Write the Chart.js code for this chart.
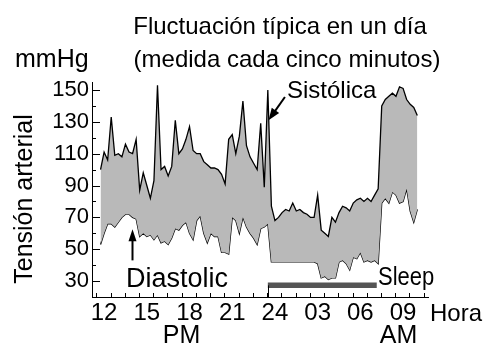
<!DOCTYPE html>
<html>
<head>
<meta charset="utf-8">
<script src="https://cdn.jsdelivr.net/npm/chart.js@4.4.1/dist/chart.umd.min.js"></script>
<style>
  html, body { margin: 0; padding: 0; background: #fff; }
</style>
</head>
<body>
<canvas id="bpChart" width="486" height="347"></canvas>
<script>
// hora de cada lectura (12 = mediodía, 24 = medianoche, 33 = 09 AM)
const hours = [
  11.75, 12, 12.25, 12.5, 12.75, 13, 13.25, 13.5, 13.75, 14,
  14.25, 14.5, 14.75, 15, 15.25, 15.5, 15.75, 16, 16.25, 16.5,
  16.75, 17, 17.25, 17.5, 17.75, 18, 18.25, 18.5, 18.75, 19,
  19.25, 19.5, 19.75, 20, 20.25, 20.5, 20.75, 21, 21.25, 21.5,
  21.75, 22, 22.25, 22.5, 22.75, 23, 23.25, 23.5, 23.75, 24,
  24.25, 24.5, 24.75, 25, 25.25, 25.5, 25.75, 26, 26.25, 26.5,
  26.75, 27, 27.25, 27.5, 27.75, 28, 28.25, 28.5, 28.75, 29,
  29.25, 29.5, 29.75, 30, 30.25, 30.5, 30.75, 31, 31.25, 31.5,
  31.75, 32, 32.25, 32.5, 32.75, 33, 33.25, 33.5, 33.75, 34
];

// presión sistólica (mmHg)
const systolic = [
  100, 111, 106, 133, 109, 110, 108, 116, 111, 110,
  119, 87, 98, 90, 82, 93, 153, 100, 102, 96,
  102, 131, 110, 113, 119, 127, 112, 110, 110, 105,
  103, 101, 101, 100, 97, 91, 119, 122, 110, 121,
  143, 115, 108, 104, 100, 129, 89, 150, 77, 68,
  70, 73, 75, 74, 79, 74, 75, 73, 72, 70,
  70, 84, 62, 60, 58, 70, 67, 73, 77, 76,
  74, 79, 81, 82, 80, 82, 80, 84, 88, 140,
  144, 146, 148, 146, 152, 151, 144, 141, 139, 134
];

// presión diastólica (mmHg)
const diastolic = [
  53, 60, 66, 66, 64, 67, 70, 72, 72, 70,
  69, 58, 60, 58, 59, 56, 59, 54, 55, 53,
  57, 63, 62, 65, 67, 60, 56, 68, 71, 60,
  54, 60, 58, 58, 48, 48, 47, 70, 68, 60,
  70, 64, 60, 57, 53, 63, 64, 66, 42, 42,
  42, 42, 42, 42, 42, 42, 42, 42, 42, 42,
  42, 41, 32, 33, 31, 32, 32, 42, 43, 41,
  37, 45, 44, 48, 42, 43, 42, 43, 41, 79,
  82, 79, 86, 84, 79, 80, 88, 74, 67, 75
];

// periodo de sueño
const sleepHours = [23.5, 31.15];
const sleepLevel = 27.3;

const tickHours = [12, 15, 18, 21, 24, 27, 30, 33];
const tickLabels = ['12', '15', '18', '21', '24', '03', '06', '09'];
const minorHours = [11.45, 12.45, 13.45, 14.45, 15.45, 16.45, 17.45, 18.45, 19.45, 20.45, 21.45, 22.45,
  23.45, 24.45, 25.45, 26.45, 27.45, 28.45, 29.45, 30.45, 31.45, 32.45, 33.45, 34.45];
const yTicks = [30, 50, 70, 90, 110, 130, 150];
const yMinor = [40, 60, 80, 100, 120, 140];

const FONT = "'Liberation Sans', Arial, sans-serif";

function arrow(ctx, x1, y1, x2, y2, head, half) {
  const a = Math.atan2(y2 - y1, x2 - x1);
  const c = Math.cos(a), s = Math.sin(a);
  ctx.beginPath();
  ctx.moveTo(x1, y1);
  ctx.lineTo(x2 - c * head * 0.8, y2 - s * head * 0.8);
  ctx.stroke();
  ctx.beginPath();
  ctx.moveTo(x2, y2);
  ctx.lineTo(x2 - head * c + half * s, y2 - head * s - half * c);
  ctx.lineTo(x2 - head * c - half * s, y2 - head * s + half * c);
  ctx.closePath();
  ctx.fill();
}

const decorations = {
  id: 'decorations',
  afterDraw(chart) {
    const { ctx, chartArea } = chart;
    const x = chart.scales.x, y = chart.scales.y;
    ctx.save();
    ctx.strokeStyle = '#000';
    ctx.fillStyle = '#000';
    ctx.lineWidth = 1;

    // marcas hacia dentro
    ctx.beginPath();
    yTicks.forEach(v => {
      const py = Math.round(y.getPixelForValue(v)) + 0.5;
      ctx.moveTo(chartArea.left, py); ctx.lineTo(chartArea.left + 8, py);
    });
    yMinor.forEach(v => {
      const py = Math.round(y.getPixelForValue(v)) + 0.5;
      ctx.moveTo(chartArea.left, py); ctx.lineTo(chartArea.left + 4, py);
    });
    minorHours.forEach(h => {
      const px = Math.round(x.getPixelForValue(h)) + 0.5;
      ctx.moveTo(px, chartArea.bottom); ctx.lineTo(px, chartArea.bottom - 4);
    });
    // inicio del sueño
    const sx = Math.round(x.getPixelForValue(sleepHours[0])) + 0.5;
    ctx.moveTo(sx, y.getPixelForValue(sleepLevel)); ctx.lineTo(sx, chartArea.bottom);
    ctx.stroke();

    // títulos
    ctx.textBaseline = 'alphabetic';
    ctx.textAlign = 'center';
    ctx.font = '24px ' + FONT;
    ctx.fillText('Fluctuación típica en un día', 280, 34);
    ctx.fillText('(medida cada cinco minutos)', 287, 67);
    ctx.textAlign = 'left';
    ctx.font = '25px ' + FONT;
    ctx.fillText('mmHg', 15, 67);

    ctx.save();
    ctx.translate(32, 199);
    ctx.rotate(-Math.PI / 2);
    ctx.textAlign = 'center';
    ctx.font = '25px ' + FONT;
    ctx.fillText('Tensión arterial', 0, 0);
    ctx.restore();

    // etiquetas de las curvas
    ctx.font = '24px ' + FONT;
    ctx.fillText('Sistólica', 287, 98);
    ctx.lineWidth = 2;
    arrow(ctx, x.getPixelForValue(24.7), y.getPixelForValue(145.6),
      x.getPixelForValue(23.55), y.getPixelForValue(131), 12, 4.5);

    ctx.font = '27px ' + FONT;
    ctx.fillText('Diastolic', 126, 287);
    const dx = Math.round(x.getPixelForValue(13.94)) + 0.5;
    arrow(ctx, dx, y.getPixelForValue(43), dx, y.getPixelForValue(62.5), 12, 4);

    ctx.save();
    ctx.translate(378, 285);
    ctx.scale(0.88, 1);
    ctx.font = '25px ' + FONT;
    ctx.fillText('Sleep', 0, 0);
    ctx.restore();

    // eje horizontal
    ctx.textAlign = 'center';
    ctx.font = '25px ' + FONT;
    ctx.fillText('PM', 181.5, 343);
    ctx.fillText('AM', 398.5, 343);
    ctx.textAlign = 'left';
    ctx.font = '24px ' + FONT;
    ctx.fillText('Hora', 430, 321);
    ctx.restore();
  }
};

new Chart(document.getElementById('bpChart'), {
  type: 'line',
  data: {
    datasets: [
      {
        label: 'Sistólica',
        data: hours.map((h, i) => ({ x: h, y: systolic[i] })),
        borderColor: '#000',
        borderWidth: 1.3,
        backgroundColor: '#b9b9b9',
        fill: '+1',
        pointRadius: 0,
        tension: 0
      },
      {
        label: 'Diastólica',
        data: hours.map((h, i) => ({ x: h, y: diastolic[i] })),
        borderColor: '#000',
        borderWidth: 1.3,
        fill: false,
        pointRadius: 0,
        tension: 0
      },
      {
        label: 'Sleep',
        data: sleepHours.map(h => ({ x: h, y: sleepLevel })),
        borderColor: '#555',
        borderWidth: 5.5,
        borderCapStyle: 'butt',
        fill: false,
        pointRadius: 0
      }
    ]
  },
  options: {
    responsive: false,
    animation: false,
    layout: { padding: { left: 0, top: 82, right: 58, bottom: 0 } },
    plugins: {
      legend: { display: false },
      tooltip: { enabled: false }
    },
    scales: {
      x: {
        type: 'linear',
        min: 11.15,
        max: 34.75,
        grid: { display: false, drawTicks: false },
        border: { display: true, color: '#000', width: 1 },
        afterBuildTicks: s => { s.ticks = tickHours.map(v => ({ value: v })); },
        afterFit: s => { s.height = 50; },
        ticks: {
          autoSkip: false,
          maxRotation: 0,
          padding: 2,
          color: '#000',
          font: { family: FONT, size: 24 },
          callback: (v, i) => tickLabels[i]
        }
      },
      y: {
        min: 20,
        max: 155,
        grid: { display: false, drawTicks: false },
        border: { display: true, color: '#000', width: 1 },
        afterBuildTicks: s => { s.ticks = yTicks.map(v => ({ value: v })); },
        afterFit: s => { s.width = 92; },
        ticks: {
          padding: 3,
          color: '#000',
          font: { family: FONT, size: 22 }
        }
      }
    }
  },
  plugins: [decorations]
});
</script>
</body>
</html>
